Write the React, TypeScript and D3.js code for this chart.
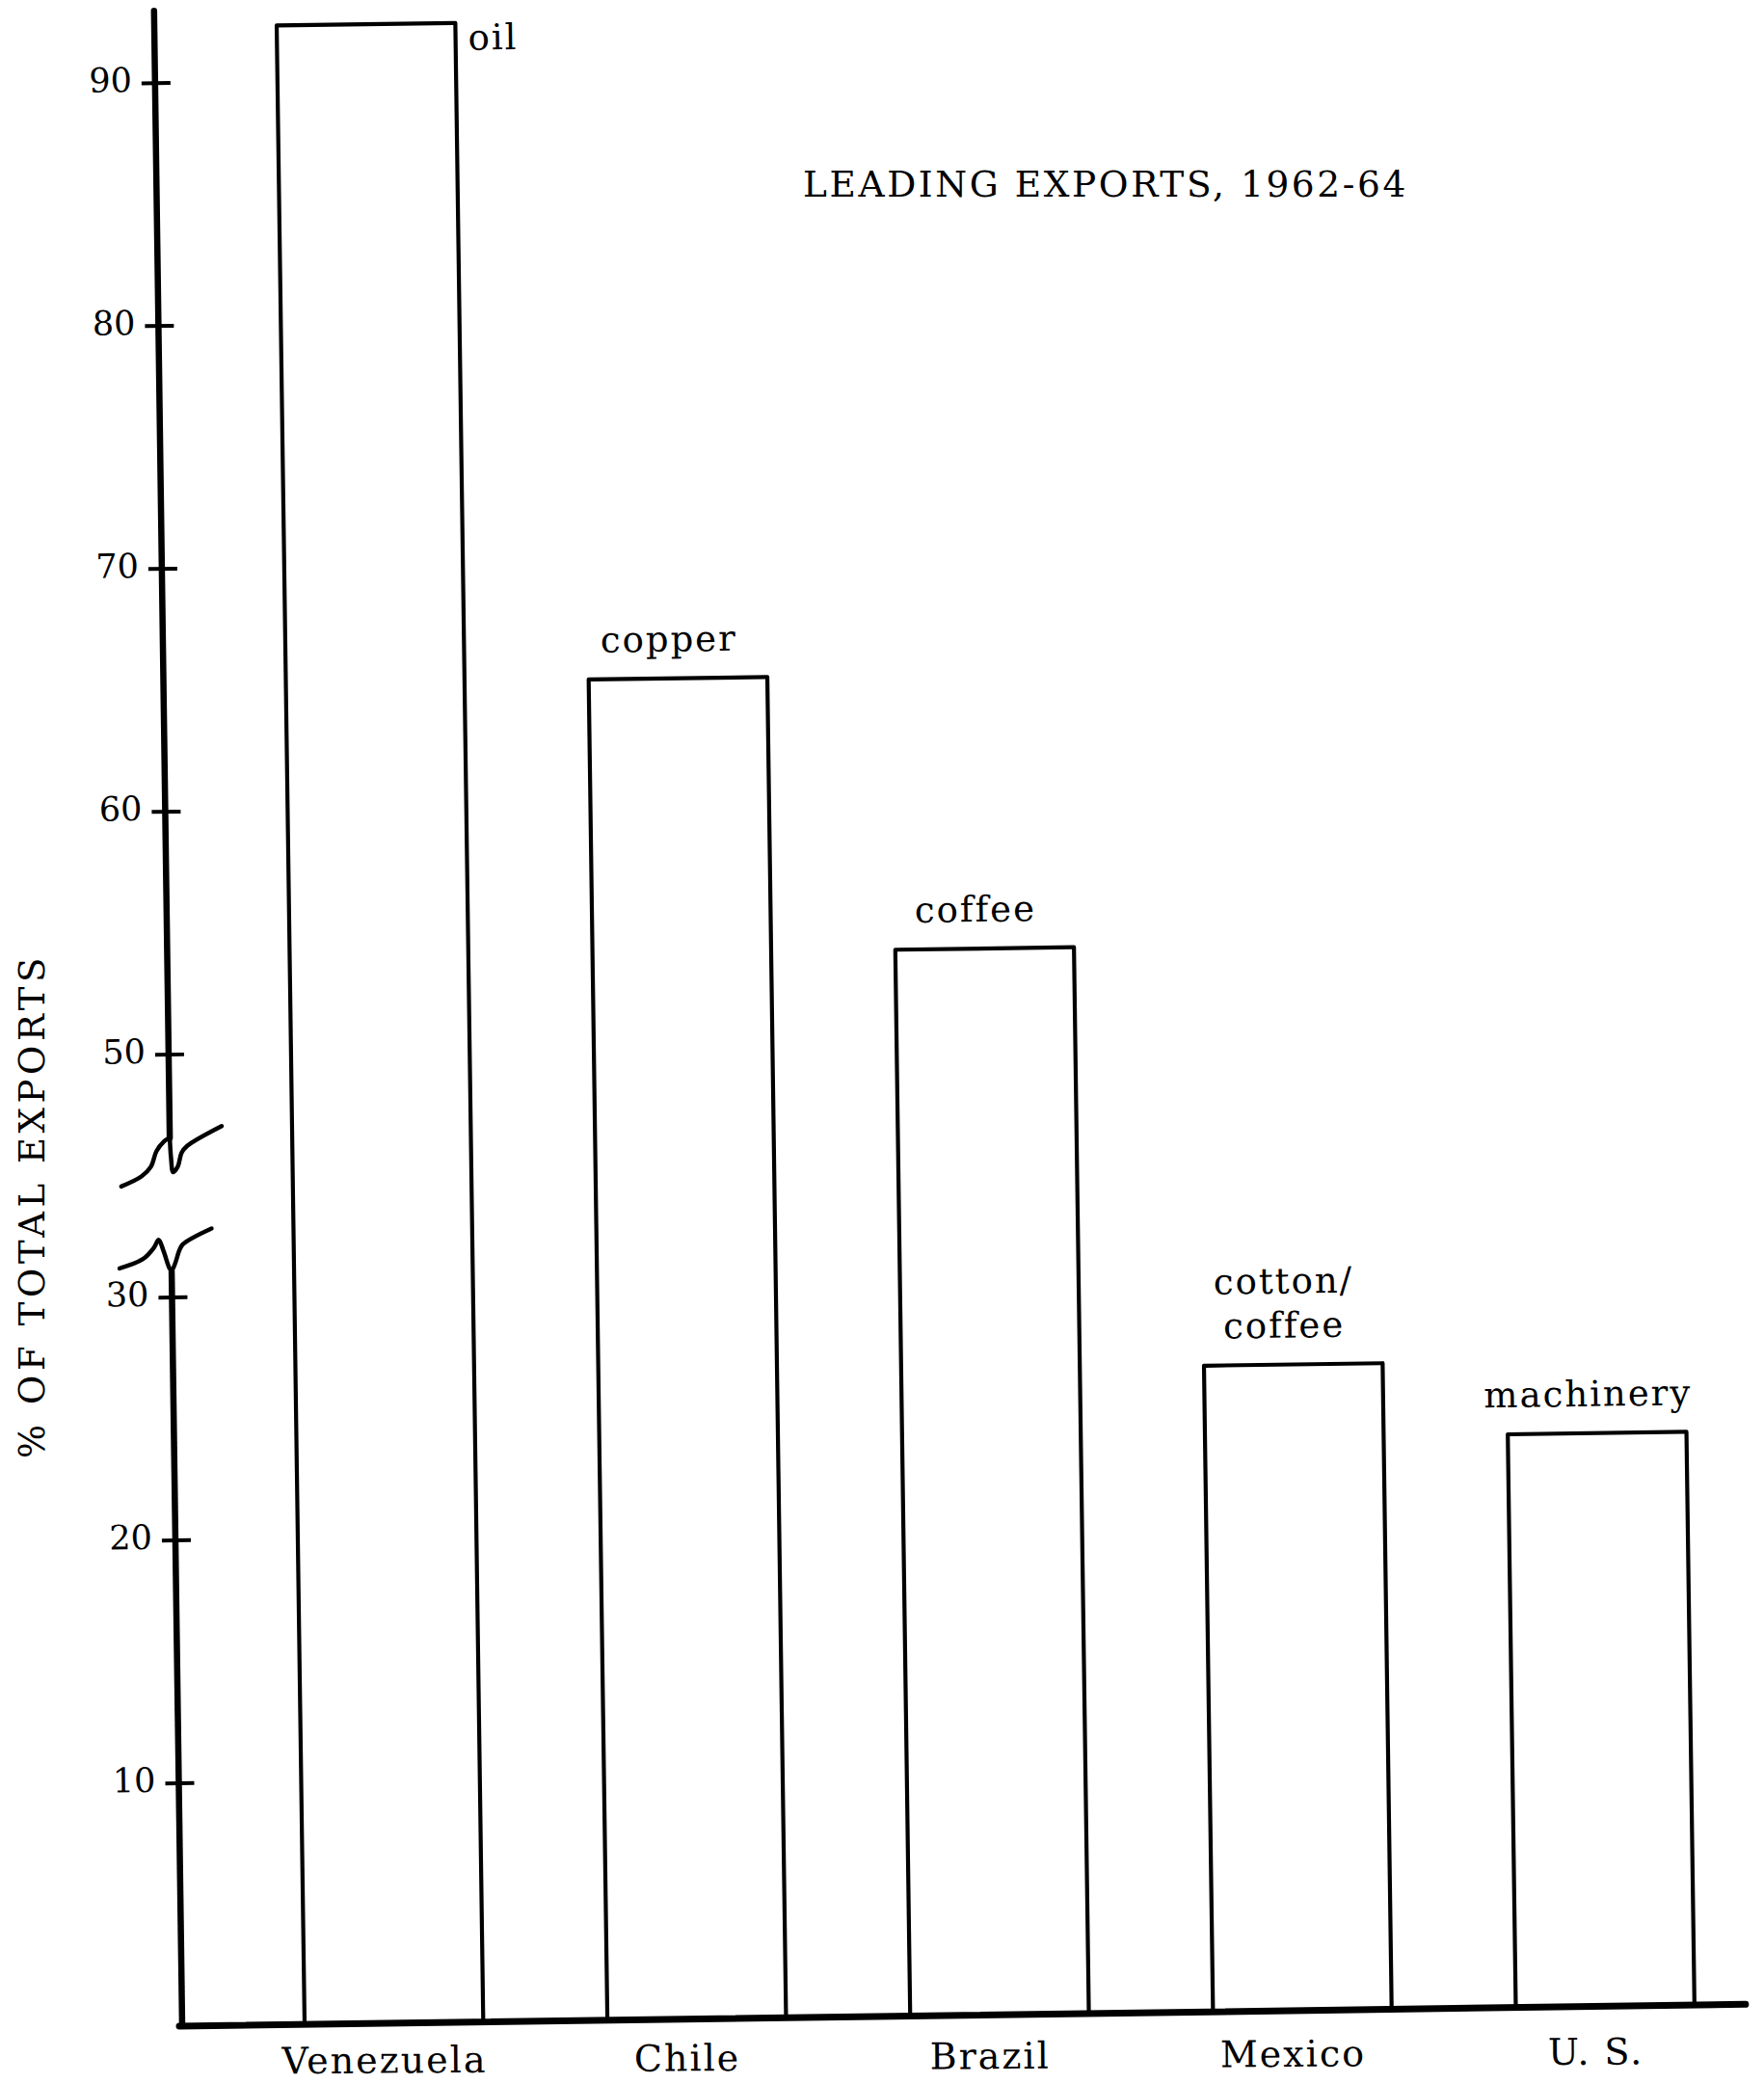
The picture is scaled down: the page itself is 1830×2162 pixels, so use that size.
import React from "react";
import * as d3 from "d3";

// ---- data ----
const countries = ["Venezuela", "Chile", "Brazil", "Mexico", "U. S."];
const shares = [92.3, 65.2, 53.9, 26.6, 23.6];
const products = [["oil"], ["copper"], ["coffee"], ["cotton/", "coffee"], ["machinery"]];
const yTicks = [10, 20, 30, 50, 60, 70, 80, 90];
const titleText = "LEADING EXPORTS, 1962-64";
const yTitleText = "% OF TOTAL EXPORTS";

// ---- layout ----
const W = 1830;
const H = 2162;
const AX = 189;
const BASE = 2102;
const UNIT = 25.2;
const AXIS_TOP = 11;
const X_END = 1811;
const FONT = "'DejaVu Serif', 'Liberation Serif', serif";

export default function App() {
  const x = d3
    .scaleBand<string>()
    .domain(countries)
    .range([316, 1758])
    .paddingInner(0.41)
    .paddingOuter(0);
  // broken axis: 30..50 compressed into 10 units
  const y = d3
    .scaleLinear()
    .domain([0, 30, 50, 100])
    .range([BASE, BASE - 30 * UNIT, BASE - 40 * UNIT, BASE - 90 * UNIT]);

  const y30 = y(30);
  const curve = d3.line().curve(d3.curveCatmullRom.alpha(0.5));
  const rel = (pts: number[][]) => pts.map(([dx, dy]) => [AX + dx, y30 + dy] as [number, number]);

  const upperTail = rel([[-51, -116], [-30, -126], [-20, -136], [-14, -152], [-6, -162], [0, -166]]);
  const upperHook = rel([[0, -166], [1, -145], [3, -130], [8, -136], [12, -150], [18, -157], [54, -177]]);
  const lowerSym = rel([[-54, -31], [-30, -40], [-18, -52], [-13, -60], [-8, -48], [-2, -30], [0, -28], [4, -36], [8, -48], [12, -55], [42, -71]]);

  const bw = x.bandwidth();

  return (
    <svg
      width={W}
      height={H}
      style={{ position: "absolute", left: 0, top: 0, background: "#fff" }}
      fontFamily={FONT}
    >
      <rect x={0} y={0} width={W} height={H} fill="#fff" />
      {/* title */}
      <text x={833} y={204} fontSize={37.5} letterSpacing={2.6} fill="#000">
        {titleText}
      </text>
      {/* y axis title */}
      <text
        transform={`translate(46,1251) rotate(-90)`}
        textAnchor="middle"
        fontSize={37}
        letterSpacing={4.6}
        fill="#000"
      >
        {yTitleText}
      </text>

      <g transform={`rotate(-0.8, ${AX}, ${BASE})`}>
        {/* bars */}
        {countries.map((c, i) => (
          <rect
            key={c}
            x={x(c)}
            y={y(shares[i])}
            width={bw}
            height={BASE - y(shares[i])}
            fill="#fff"
            stroke="#000"
            strokeWidth={4.2}
            strokeLinejoin="round"
          />
        ))}
        {/* axis */}
        <line x1={AX} y1={AXIS_TOP} x2={AX} y2={y30 - 166} stroke="#000" strokeWidth={6.5} strokeLinecap="round" />
        <line x1={AX} y1={y30 - 28} x2={AX} y2={BASE} stroke="#000" strokeWidth={6.5} />
        <line x1={AX - 3} y1={BASE} x2={X_END} y2={BASE} stroke="#000" strokeWidth={7} strokeLinecap="round" />
        {/* axis break symbols */}
        <path d={curve(upperTail) || ""} fill="none" stroke="#000" strokeWidth={4.5} strokeLinecap="round" />
        <path d={curve(upperHook) || ""} fill="none" stroke="#000" strokeWidth={4.5} strokeLinecap="round" />
        <path d={curve(lowerSym) || ""} fill="none" stroke="#000" strokeWidth={4.5} strokeLinecap="round" />
        {/* ticks */}
        {yTicks.map((t) => (
          <g key={t}>
            <line x1={AX - 14} x2={AX + 16} y1={y(t)} y2={y(t)} stroke="#000" strokeWidth={4} />
            <text
              x={AX - 24}
              y={y(t) - 4}
              dy="0.36em"
              textAnchor="end"
              fontSize={35}
              fill="#000"
            >
              {t}
            </text>
          </g>
        ))}
        {/* product labels */}
        {countries.map((c, i) => {
          const lines = products[i];
          const top = y(shares[i]);
          if (i === 0) {
            return (
              <text key={c} x={(x(c) || 0) + bw + 13} y={top + 28} fontSize={37} letterSpacing={2} fill="#000">
                {lines[0]}
              </text>
            );
          }
          return lines.map((ln, j) => (
            <text
              key={c + j}
              x={(x(c) || 0) + bw / 2 - 9}
              y={top - 28 - (lines.length - 1 - j) * 46}
              textAnchor="middle"
              fontSize={37}
              letterSpacing={2}
              fill="#000"
            >
              {ln}
            </text>
          ));
        })}
      </g>

      {/* category labels */}
      <g transform={`rotate(-0.4, ${AX}, ${BASE})`}>
        {countries.map((c) => (
          <text
            key={c}
            x={(x(c) || 0) + bw / 2 - 10}
            y={2152}
            textAnchor="middle"
            fontSize={38}
            letterSpacing={2}
            fill="#000"
          >
            {c}
          </text>
        ))}
      </g>
    </svg>
  );
}
